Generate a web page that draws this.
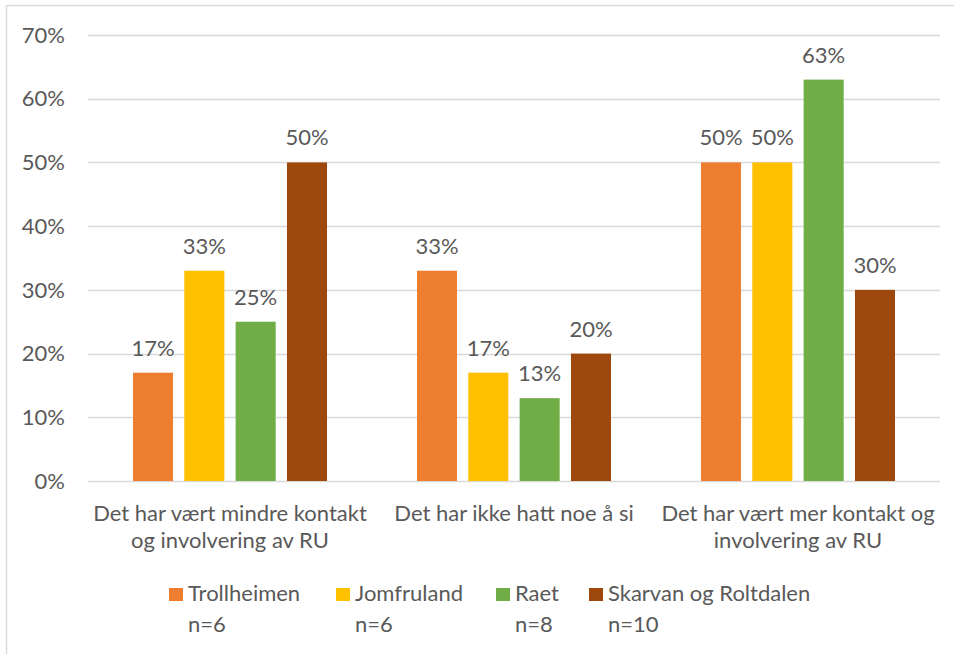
<!DOCTYPE html>
<html>
<head>
<meta charset="utf-8">
<script src="https://cdn.jsdelivr.net/npm/d3@7"></script>
<style>
  body { margin: 0; background: #fff; }
  text { font-family: Lato, "Open Sans", sans-serif; fill: #595959; }
</style>
</head>
<body>
<div id="chart"></div>
<script>
const categories = [
  ["Det har vært mindre kontakt", "og involvering av RU"],
  ["Det har ikke hatt noe å si"],
  ["Det har vært mer kontakt og", "involvering av RU"]
];
const seriesNames = ["Trollheimen", "Jomfruland", "Raet", "Skarvan og Roltdalen"];
const seriesN = ["n=6", "n=6", "n=8", "n=10"];
const trollheimen = [17, 33, 50];
const jomfruland = [33, 17, 50];
const raet = [25, 13, 63];
const skarvan = [50, 20, 30];
const yTicks = [0, 10, 20, 30, 40, 50, 60, 70];
const colors = ["#ED7D31", "#FFC000", "#70AD47", "#9E480E"];

const drawChart = () => {
  const width = 954;
  const height = 654;
  const margin = { top: 35, right: 14, bottom: 173, left: 88 };
  const fontSize = "22px";
  const values = [trollheimen, jomfruland, raet, skarvan];

  const svg = d3
    .select("#chart")
    .append("svg")
    .attr("width", width)
    .attr("height", height);

  // chart border (top and left visible)
  svg.append("line")
    .attr("x1", 6.5).attr("x2", width).attr("y1", 5.5).attr("y2", 5.5)
    .attr("stroke", "#D9D9D9").attr("stroke-width", 1.5);
  svg.append("line")
    .attr("x1", 6.5).attr("x2", 6.5).attr("y1", 5.5).attr("y2", height)
    .attr("stroke", "#D9D9D9").attr("stroke-width", 1.5);

  const x0 = d3
    .scaleBand()
    .domain(d3.range(categories.length))
    .range([margin.left, width - margin.right]);

  const x1 = d3
    .scaleBand()
    .domain(d3.range(seriesNames.length))
    .range([45, x0.bandwidth() - 45])
    .paddingInner(0.22);

  const y = d3
    .scaleLinear()
    .domain([0, 70])
    .range([height - margin.bottom, margin.top]);

  // gridlines
  svg.append("g")
    .selectAll("line")
    .data(yTicks)
    .join("line")
    .attr("x1", margin.left)
    .attr("x2", width - margin.right)
    .attr("y1", (d) => Math.round(y(d)) + 0.5)
    .attr("y2", (d) => Math.round(y(d)) + 0.5)
    .attr("stroke", "#D9D9D9")
    .attr("stroke-width", 1.5);

  // y labels
  svg.append("g")
    .selectAll("text")
    .data(yTicks)
    .join("text")
    .attr("x", 65)
    .attr("y", (d) => y(d))
    .attr("dy", "0.35em")
    .attr("text-anchor", "end")
    .style("font-size", fontSize)
    .text((d) => d + "%");

  // bars
  const groups = svg.append("g")
    .selectAll("g")
    .data(categories)
    .join("g")
    .attr("transform", (d, i) => `translate(${x0(i)},0)`);

  groups.selectAll("rect")
    .data((d, i) => values.map((s, j) => ({ s: j, v: s[i] })))
    .join("rect")
    .attr("x", (d) => x1(d.s))
    .attr("width", x1.bandwidth())
    .attr("y", (d) => y(d.v))
    .attr("height", (d) => y(0) - y(d.v))
    .attr("fill", (d) => colors[d.s]);

  groups.selectAll("text.val")
    .data((d, i) => values.map((s, j) => ({ s: j, v: s[i] })))
    .join("text")
    .attr("class", "val")
    .attr("x", (d) => x1(d.s) + x1.bandwidth() / 2)
    .attr("y", (d) => y(d.v) - 17)
    .attr("text-anchor", "middle")
    .style("font-size", fontSize)
    .text((d) => d.v + "%");

  // category labels
  svg.append("g")
    .selectAll("text")
    .data(categories)
    .join("text")
    .attr("x", (d, i) => x0(i) + x0.bandwidth() / 2)
    .attr("y", 521)
    .attr("text-anchor", "middle")
    .style("font-size", fontSize)
    .selectAll("tspan")
    .data((d) => d)
    .join("tspan")
    .attr("x", function () { return this.parentNode.getAttribute("x"); })
    .attr("dy", (d, i) => (i === 0 ? 0 : 27))
    .text((d) => d);

  // legend
  const legendX = [169, 336, 496, 589];
  const legend = svg.append("g")
    .selectAll("g")
    .data(seriesNames)
    .join("g")
    .attr("transform", (d, i) => `translate(${legendX[i]},0)`);

  legend.append("rect")
    .attr("x", 0)
    .attr("y", 588)
    .attr("width", 14)
    .attr("height", 13)
    .attr("fill", (d, i) => colors[i]);

  legend.append("text")
    .attr("x", 19)
    .attr("y", 601)
    .style("font-size", fontSize)
    .text((d) => d);

  legend.append("text")
    .attr("x", 19)
    .attr("y", 632)
    .style("font-size", fontSize)
    .text((d, i) => seriesN[i]);
};

drawChart();
</script>
</body>
</html>
